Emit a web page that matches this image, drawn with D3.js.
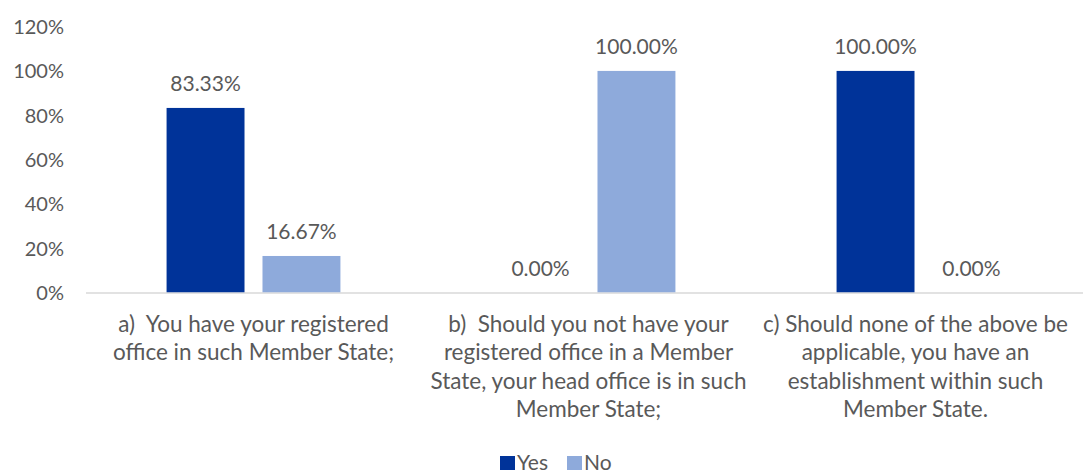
<!DOCTYPE html>
<html>
<head>
<meta charset="utf-8">
<script src="https://cdn.jsdelivr.net/npm/d3@7"></script>
<style>
  body { margin: 0; background: #fff; }
  svg text { font-family: Lato, "Open Sans", sans-serif; fill: #595959; white-space: pre; }
</style>
</head>
<body>
<svg id="chart" width="1083" height="473"></svg>
<script>
// categories, wrapped the way the original shows them
const categories = ["a", "b", "c"];
const categoryLines = [
  ["a)  You have your registered", "office in such Member State;"],
  ["b)  Should you not have your", "registered office in a Member", "State, your head office is in such", "Member State;"],
  ["c) Should none of the above be", "applicable, you have an", "establishment within such", "Member State."]
];
const seriesNames = ["Yes", "No"];
const yesValues = [83.33, 0, 100];
const noValues = [16.67, 100, 0];
const yTicks = [0, 20, 40, 60, 80, 100, 120];
const colors = { Yes: "#003399", No: "#8eaadb" };

const svg = d3.select("#chart");
const margin = { top: 26.5, left: 86 };
const plotRight = 1091;
const baseY = 293;

const x0 = d3.scaleBand().domain(categories).range([margin.left, plotRight]);
const x1 = d3.scaleBand().domain(seriesNames).range([0, x0.bandwidth()])
  .paddingInner(0.1875).paddingOuter(0.84);
const y = d3.scaleLinear().domain([0, 120]).range([baseY, margin.top]);

// y axis labels
svg.append("g")
  .selectAll("text")
  .data(yTicks)
  .join("text")
  .attr("x", 64)
  .attr("y", d => y(d))
  .attr("dy", "0.36em")
  .attr("text-anchor", "end")
  .style("font-size", "20px")
  .text(d => d + "%");

// baseline
svg.append("line")
  .attr("x1", margin.left).attr("x2", plotRight)
  .attr("y1", baseY).attr("y2", baseY)
  .attr("stroke", "#d9d9d9").attr("stroke-width", 1.5);

const rows = categories.map((c, i) => ({ cat: c, Yes: yesValues[i], No: noValues[i] }));

const groups = svg.append("g")
  .selectAll("g")
  .data(rows)
  .join("g")
  .attr("transform", d => `translate(${x0(d.cat)},0)`);

const cells = groups.selectAll("g")
  .data(d => seriesNames.map(s => ({ key: s, value: d[s] })))
  .join("g");

cells.append("rect")
  .attr("x", d => x1(d.key))
  .attr("width", x1.bandwidth())
  .attr("y", d => y(d.value))
  .attr("height", d => Math.max(0, baseY - y(d.value) - 0.75))
  .attr("fill", d => colors[d.key]);

cells.append("text")
  .attr("x", d => x1(d.key) + x1.bandwidth() / 2)
  .attr("y", d => y(d.value) - 17)
  .attr("text-anchor", "middle")
  .style("font-size", "21px")
  .text(d => d.value.toFixed(2) + "%");

// category labels
svg.append("g")
  .selectAll("text")
  .data(categories)
  .join("text")
  .attr("text-anchor", "middle")
  .attr("y", 332)
  .style("font-size", "22.5px")
  .each(function (d, i) {
    d3.select(this).selectAll("tspan")
      .data(categoryLines[i])
      .join("tspan")
      .attr("x", x0(d) + x0.bandwidth() / 2 - (i === 2 ? 8 : 0))
      .attr("dy", (l, j) => j === 0 ? 0 : 28.3)
      .text(l => l);
  });

// legend
const legend = svg.append("g").attr("transform", "translate(500,456)");
const legendItems = legend.selectAll("g")
  .data(seriesNames)
  .join("g")
  .attr("transform", (d, i) => `translate(${i * 67},0)`);
legendItems.append("rect")
  .attr("width", 15).attr("height", 14)
  .attr("fill", d => colors[d]);
legendItems.append("text")
  .attr("x", 17).attr("y", 14)
  .style("font-size", "21px")
  .text(d => d);
</script>
</body>
</html>
